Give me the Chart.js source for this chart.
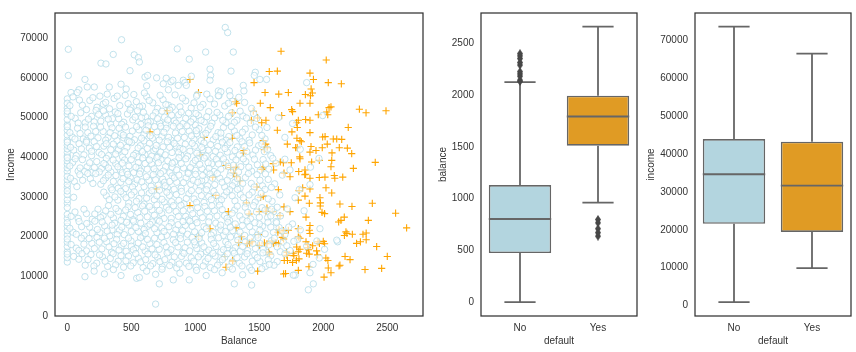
<!DOCTYPE html>
<html>
<head>
<meta charset="utf-8">
<script src="https://cdn.jsdelivr.net/npm/chart.js@4.4.1/dist/chart.umd.min.js"></script>
<style>
  html, body { margin: 0; padding: 0; background: #fff; }
  #wrap { position: relative; width: 856px; height: 352px; }
  canvas { position: absolute; top: 0; }
</style>
</head>
<body>
<div id="wrap">
  <canvas id="scatter" width="430" height="352" style="left:0px"></canvas>
  <canvas id="boxBalance" width="212" height="352" style="left:430px"></canvas>
  <canvas id="boxIncome" width="214" height="352" style="left:642px"></canvas>
</div>
<script>
// ---- data (balance, income) ----
// default == No (sampled, estimated positions)
const noDefault = [
  // top outliers
  [1234,72700],[1253,71400],[424,69600],[8,67200],[859,67300],[359,65900],[1297,66500],[1081,66500],[523,65800],[555,65100],
  [563,64000],[953,64700],[263,63700],[302,63500],[490,61800],[1115,62200],[1279,61700],[8,60600],[607,60200],[628,60600],
  [1120,60600],[1469,61400],[1461,60600],[969,60400],[138,59600],[698,60000],[773,59900],[750,58500],[810,59000],[825,59400],
  [867,58100],[906,59400],[919,58800],[1115,59400],[1375,58100],[1505,59600],[1557,59600],[1870,58800],[211,57700],[328,57700],
  [420,58400],[620,58000],[790,57000],[930,58100],[29,56300],[91,57000],[1016,55800],[1180,56700],[1266,56700],[1380,56700],
  [1271,55500],[1185,55500],[156,57700],[78,56300],[460,57200],[1200,56500],
  // 52k-56k
  [0,52400],[0,54700],[0,53600],[45,55200],[118,53100],[176,54300],[232,52600],[281,53400],[255,55400],[330,52200],
  [366,54800],[410,53000],[452,55600],[497,52500],[540,54000],[588,52900],[620,55300],[668,53700],[705,52300],[748,54500],
  [790,53100],[842,55700],[880,52700],[925,54200],[968,52400],[1010,55400],[1060,53300],[1115,54700],[1180,55500],[1230,52900],
  [1290,54100],[1385,53800],[1440,52300],[312,55900],[602,56200],[150,52000],
  [20,53000],[95,54400],[200,55000],[300,53800],[390,55400],[475,53500],[520,55800],[565,52700],[640,54300],[725,55600],
  [770,53300],[820,52600],[900,54900],[990,53700],[1040,52600],[1090,55900],[1150,53400],[1260,53600],[1340,55100],
  // 48k-52k
  [0,48200],[0,49500],[0,50900],[0,51600],[62,49800],[105,51200],[140,48700],[190,50300],[225,51800],[262,49100],
  [300,50600],[338,48400],[375,51400],[402,49700],[441,48800],[470,50900],[512,49400],[548,51700],[575,48300],[612,50200],
  [650,49000],[690,51300],[722,48600],[760,50100],[801,51900],[835,49200],[870,50700],[905,48500],[948,51100],[985,49600],
  [1025,50500],[1070,48900],[1105,51500],[1150,49900],[1192,50600],[1240,48700],[1283,51200],[1325,49300],[1372,50400],[1430,48600],
  [1480,49800],[580,50000],[352,49700],[770,48300],[1000,48100],
  [30,50300],[85,48600],[165,49600],[210,48900],[245,50800],[282,51700],[320,49600],[395,51000],[425,48300],[490,51900],
  [530,50100],[595,51300],[630,48900],[670,50400],[705,49700],[740,51600],[785,49400],[815,50600],[850,48600],[890,51400],
  [925,49800],[965,48900],[1005,51000],[1045,49300],[1090,50200],[1130,48600],[1170,51300],[1215,49300],[1260,50300],[1305,48800],
  [1350,51600],[1400,49900],[1455,51000],
  // 44k-48k
  [0,44300],[0,45600],[0,46800],[0,47700],[38,45100],[80,47300],[125,44600],[160,46200],[205,47800],[240,44900],
  [280,46500],[318,45000],[350,47400],[388,44200],[420,46000],[455,47600],[490,45300],[525,44400],[560,46900],[598,45700],
  [632,47900],[665,44800],[700,46400],[738,45200],[772,47300],[810,44300],[845,46100],[880,47700],[915,45000],[952,46600],
  [990,44500],[1028,47200],[1062,45600],[1100,46900],[1140,44400],[1178,46200],[1220,47500],[1262,45200],[1305,46600],[1348,44700],
  [1390,47100],[1445,45600],[1500,46900],[1545,44600],[440,44900],[730,47800],[1010,45900],[150,44200],[600,44100],[1200,44900],
  [20,46200],[60,44600],[100,46000],[140,47600],[185,45300],[222,46500],[260,47600],[300,44300],[335,46200],[370,45400],
  [405,47300],[438,45600],[472,44200],[508,46600],[542,47700],[580,44800],[615,46800],[648,45400],[682,47700],[718,44300],
  [755,46300],[792,45000],[828,47800],[862,44800],[898,46500],[935,47900],[970,45400],[1008,46700],[1045,44200],[1082,46000],
  [1120,47800],[1160,45200],[1200,46100],[1240,44300],[1282,47700],[1325,45500],[1368,46300],[1420,44300],[1470,47600],[1520,45500],
  // 40k-44k
  [0,40300],[0,41200],[0,42100],[0,43000],[0,43800],[50,41800],[92,43400],[130,40600],[172,42300],[210,43900],
  [248,41200],[286,42800],[322,40400],[360,43300],[395,41700],[432,40100],[466,42500],[502,43700],[536,41000],[570,42900],
  [607,40600],[642,43500],[676,41600],[712,40200],[748,42600],[782,43900],[818,41200],[852,42800],[888,40500],[922,43300],
  [958,41500],[995,42800],[1030,40400],[1068,43600],[1102,41800],[1140,40200],[1175,42700],[1212,43800],[1250,41300],[1290,40100],
  [1328,42600],[1365,43900],[1402,41400],[1450,40600],[1495,42900],[1540,41400],[1590,40400],[400,42000],[690,42100],[880,42200],
  [1060,41900],[190,40400],[550,40100],[1250,43100],
  [25,42500],[70,40400],[110,42100],[150,43800],[190,41500],[228,42700],[268,40700],[304,43400],[340,41900],[378,40800],
  [415,43000],[450,41400],[484,43900],[518,40500],[553,42300],[588,41400],[625,42200],[660,40300],[695,43000],[730,41300],
  [765,40600],[800,42500],[835,43500],[870,41200],[905,42000],[940,40300],[976,43500],[1012,41000],[1050,42500],[1085,40300],
  [1120,43200],[1158,41500],[1195,40500],[1232,42200],[1270,43700],[1310,41700],[1345,40600],[1385,42700],[1425,43600],[1470,41800],
  [1520,43300],[1565,42000],
  // 36k-40k
  [0,36400],[0,37300],[0,38200],[0,39100],[0,39900],[42,38700],[85,36500],[118,39400],[155,37600],[195,36200],
  [230,38900],[268,37200],[305,39700],[340,36300],[378,38400],[412,36900],[448,39300],[482,37800],[518,36100],[555,38600],
  [590,39800],[625,37000],[660,38300],[695,36400],[732,39400],[768,37600],[802,36100],[838,38800],[872,39900],[908,37300],
  [945,36200],[982,38500],[1018,39600],[1052,37100],[1090,36300],[1128,38300],[1165,39500],[1200,37000],[1240,38700],[1278,36200],
  [1318,39300],[1355,37600],[1395,38900],[1440,36500],[1485,38100],[1530,39400],[1575,37000],[1630,38500],[300,38000],[560,37200],
  [820,37500],[1100,38600],[430,36100],[700,39900],[1000,36700],
  [20,37800],[62,39600],[100,37300],[135,36400],[175,38600],[212,37400],[250,36300],[286,38400],[322,37300],[358,39300],
  [395,37600],[430,38500],[465,36400],[500,39400],[536,37500],[572,36500],[608,38400],[642,39300],[678,37100],[712,38600],
  [750,36500],[785,39100],[820,38500],[855,36800],[890,38400],[926,39600],[962,37400],[1000,39200],[1035,38200],[1070,39800],
  [1108,37200],[1146,36400],[1182,38300],[1220,39600],[1258,37700],[1298,38000],[1338,36300],[1375,39600],[1418,37500],[1462,39500],
  [1508,36700],[1550,38300],[1605,39700],
  // 32k-36k
  [0,32400],[0,33200],[0,34300],[0,35200],[55,33900],[98,35600],[180,34600],[222,35900],[262,33200],
  [300,34800],[342,32300],[380,35400],[418,33700],[455,32100],[492,34900],[528,33300],[565,35800],[600,32600],[638,34200],
  [672,35600],[710,33000],[745,34500],[782,32300],[818,35300],[855,33700],[890,32200],[928,34800],[965,33200],[1002,35700],
  [1040,32700],[1078,34300],[1115,35800],[1152,33100],[1192,34700],[1230,32500],[1270,35300],[1310,33700],[1350,32200],[1392,34900],
  [1438,33400],[1482,35600],[1525,32800],[1570,34400],[1620,33300],[1680,35500],[480,33900],[760,33700],[1050,34100],[1330,34600],
  [25,34700],[75,32600],[120,34200],[160,35900],[200,33400],[282,34100],[320,35500],[360,33900],[398,32200],
  [436,34600],[472,35700],[510,32500],[546,34300],[582,33800],[618,35100],[655,32700],[690,34300],[728,35900],[765,32800],
  [800,33900],[836,34800],[872,35500],[908,33600],[945,35900],[984,34200],[1020,33700],[1058,35400],[1096,32800],[1134,34700],
  [1172,35900],[1210,33700],[1250,34200],[1290,32800],[1370,33400],[1415,35900],[1460,32500],[1505,34200],[1548,35800],[1595,32400],
  // 28k-32k
  [0,28400],[0,29300],[0,30600],[0,31500],[305,30300],[350,31800],
  [395,29200],[440,30700],[480,28500],[522,31300],[560,29600],[600,28200],[640,30900],[680,29300],[720,31700],[758,28700],
  [798,30400],[835,31900],[872,29100],[912,28300],[950,30800],[990,29500],[1028,31600],[1068,28600],[1105,30100],[1145,31400],
  [1185,28900],[1225,30300],[1268,31800],[1310,29000],[1352,30600],[1398,28400],[1445,31200],[1490,29700],[1545,31900],[1600,28900],
  [1660,30500],[700,28000],
  [50,29900],[285,31200],[328,29300],[372,30000],[418,31400],[460,29800],[500,30500],
  [540,28900],[580,31000],[620,29700],[660,31600],[700,30300],[740,29400],[778,31200],[815,28800],[852,30600],[892,31400],
  [930,29600],[970,31600],[1010,28600],[1048,30300],[1088,31800],[1125,29300],[1165,30400],[1205,29300],[1245,31300],[1288,30300],
  [1330,31900],[1375,29800],[1420,30500],[1468,28700],[1515,30900],[1570,29500],
  // 24k-28k
  [0,24600],[0,25600],[0,27300],[60,26200],[150,25800],[195,24400],[240,26900],[280,25300],[322,27800],
  [360,24700],[400,26400],[438,25100],[475,27500],[512,24300],[550,26100],[588,27700],[625,25000],[662,26700],[700,24200],
  [738,25800],[775,27400],[812,24600],[850,26300],[888,27900],[925,25100],[962,26800],[1000,24400],[1038,26000],[1075,27600],
  [1112,24900],[1150,26500],[1190,27900],[1228,25300],[1268,24100],[1308,26700],[1348,25200],[1390,27400],[1432,24500],[1478,26200],
  [1522,27300],[1565,24800],[1612,26300],[1665,25200],[1720,27000],
  [30,25100],[85,24600],[130,26900],[215,25700],[260,24800],[300,26500],[340,25600],[380,27100],[420,24100],
  [456,26700],[494,25600],[530,27300],[568,24800],[605,26400],[643,27600],[680,25400],[720,26600],[756,24600],[794,26700],
  [830,27800],[868,25100],[906,26500],[944,24200],[980,25800],[1018,27300],[1056,24800],[1094,26400],[1130,27800],[1170,25200],
  [1210,26800],[1248,24600],[1288,25900],[1328,27700],[1370,24200],[1410,26100],[1455,27800],[1500,24900],[1545,26700],[1590,25200],
  [1640,27400],
  // 20k-24k
  [0,20400],[0,21500],[0,22600],[0,23500],[45,21100],[92,23800],[132,20300],[175,22400],[215,23900],[255,21000],
  [292,22700],[332,20200],[370,23400],[408,21600],[445,20500],[482,22900],[518,23900],[555,21300],[592,20100],[628,22600],
  [665,23700],[700,21000],[738,22200],[775,20300],[812,23500],[848,21700],[885,20400],[922,22800],[958,23900],[995,21200],
  [1032,20200],[1068,22500],[1105,23700],[1142,21000],[1180,22400],[1218,20300],[1255,23600],[1292,21500],[1330,20100],[1368,22800],
  [1405,23900],[1445,21200],[1485,20400],[1525,22600],[1568,23600],[1610,21100],[1655,22300],[1700,20500],[1760,23200],[1820,21700],
  [600,21800],[900,21500],[1200,21700],[350,21700],[1500,23200],
  [20,22100],[70,20600],[112,22500],[152,23300],[195,20900],[235,21800],[272,23700],[312,21400],[350,22900],[390,20500],
  [426,22400],[464,23600],[500,21300],[536,22300],[574,23400],[610,20800],[646,23100],[682,22000],[720,23900],[756,21300],
  [794,22500],[830,20600],[866,23000],[904,23800],[940,20600],[976,22600],[1014,23500],[1050,21000],[1086,22000],[1124,20400],
  [1160,23400],[1198,22900],[1236,21300],[1274,22400],[1312,23200],[1350,21100],[1386,20300],[1425,22500],[1465,23500],[1505,21600],
  [1546,20700],[1590,22400],[1632,23800],[1678,21400],[1730,22400],
  // 16k-20k
  [0,16200],[0,17500],[0,18600],[0,19400],[70,17100],[110,19600],[150,16400],[192,18300],[232,19800],[270,16900],
  [308,18700],[345,16100],[385,19300],[422,17600],[460,16300],[498,18900],[535,17100],[572,19700],[608,16400],[645,18200],
  [682,19600],[718,16800],[755,18500],[792,16100],[828,19200],[865,17400],[902,16000],[938,18600],[975,19800],[1012,17000],
  [1050,18400],[1088,16200],[1125,19300],[1162,17500],[1200,16100],[1238,18700],[1275,19900],[1312,17200],[1350,16300],[1390,18600],
  [1430,19700],[1470,17000],[1510,18200],[1552,16100],[1595,19000],[1640,17400],[1688,18600],[1740,16500],[1800,19300],[1870,17600],
  [1950,18900],[2010,16800],[500,17600],[1000,17900],[1250,17100],
  [30,18000],[90,16500],[130,18100],[170,19500],[212,17000],[250,18600],[290,19600],[326,17400],[365,18200],[404,16600],
  [440,18300],[478,19600],[516,16700],[554,18400],[590,17400],[626,19300],[662,16900],[700,18000],[736,19900],[774,17400],
  [810,16700],[846,18500],[884,19500],[920,17200],[956,16400],[994,18700],[1030,19500],[1068,17400],[1106,16600],[1144,18300],
  [1182,19700],[1220,16700],[1256,18000],[1294,16400],[1332,19100],[1370,17500],[1410,16500],[1450,18300],[1490,19800],[1530,16800],
  [1574,17900],[1618,19600],[1664,16200],[1715,17700],[1770,18800],
  // 12k-16k
  [0,13600],[0,14700],[0,15600],[90,14300],[140,12800],[185,15500],[230,13300],[275,14900],[315,12500],[358,15700],
  [398,13800],[440,12300],[478,15100],[515,13400],[555,14600],[592,12200],[630,15600],[668,13200],[705,14800],[742,12400],
  [780,15900],[818,13600],[855,12100],[892,15000],[930,13300],[968,14700],[1005,12300],[1042,15600],[1080,13700],[1118,12200],
  [1155,15100],[1192,13600],[1230,14800],[1268,12400],[1305,15800],[1345,13300],[1385,14900],[1425,12200],[1465,15400],[1505,13700],
  [1548,12500],[1590,15200],[1640,13700],[1700,15700],[1920,13000],
  [50,15000],[115,15700],[162,14200],[208,12600],[252,15400],[296,13800],[336,14500],[378,12900],[420,15200],[458,13900],
  [496,12600],[535,15700],[574,13600],[612,14200],[650,12600],[686,15400],[724,13700],[762,14200],[800,12700],[836,14900],
  [874,13100],[912,15800],[950,12500],[988,13800],[1024,14900],[1062,12600],[1100,14500],[1138,15800],[1174,12800],[1212,14200],
  [1250,15700],[1288,13600],[1326,14700],[1365,12600],[1405,15700],[1445,13800],[1485,14700],[1528,15900],[1570,14200],[1615,12800],
  // 9k-12k and low outliers
  [138,9900],[210,11300],[290,10600],[360,11700],[420,10200],[542,9500],[563,9700],[620,11300],[690,10500],[740,11800],
  [828,9100],[880,10800],[953,9100],[1010,11500],[1085,10200],[1150,11700],[1210,10900],[1290,11800],[1370,10400],[1440,11500],
  [1520,11900],[1780,10300],[719,8100],[1305,8100],[1440,7800],[1883,6600],[1922,8100],[690,3000],
  // high balance, no default
  [1740,36800],[1896,33100],[1813,31900],[1779,29800],[1596,26900],[1635,23500],[1766,10300],[1896,10900],[1578,13000],[1966,39700],
  [1995,50500],[2112,18700],[2105,19100],[1974,22000],[1969,14600],[1700,45000],[1650,50000],[1760,48500],[1820,42000],[1700,39500],
  [1850,26500],[1900,37500],[1560,47500]
];

// default == Yes
const yesDefault = [
  [1670,66700],[2023,64500],[1578,61600],[1641,61700],[1896,61200],[1923,59600],[2039,58800],[2141,58500],[1459,58800],[1545,56300],
  [1652,55900],[1727,56300],[1860,55800],[1905,57200],[1915,56200],[1900,55500],[1508,53600],[1818,53600],[1896,53600],[1323,53600],
  [2282,52100],[2334,51200],[2490,51700],[2045,52500],[2060,52700],[1961,50700],[1292,51200],[1453,51600],[1586,52500],[1675,50500],
  [1753,52000],[1760,51500],[2027,51400],[2035,50700],[1487,49900],[1552,49300],[1792,48700],[1805,49300],[1862,49500],[1896,49300],
  [1438,49300],[1519,48700],[1641,46800],[1755,46400],[1896,46200],[2195,47500],[1797,47500],[1995,45100],[2014,45200],[2078,44600],
  [2105,44600],[2144,44500],[1794,44800],[1818,44200],[1829,43900],[1531,44200],[1550,43300],[1719,43300],[1784,42400],[1796,42400],
  [1904,42700],[1992,42400],[2031,43300],[2125,42400],[2188,42300],[2222,40900],[1896,41300],[1943,41700],[2068,41100],[1816,40100],
  [1380,41700],[1375,41000],[1539,41900],[1562,42400],[2406,38700],[2066,39200],[1969,39200],[1909,38800],[1818,39600],[1750,38600],
  [1688,38600],[1664,38800],[1609,38400],[2060,37600],[2235,37200],[1857,36800],[1740,35100],[1808,36400],[1855,35600],[1862,35700],
  [1896,34700],[1969,34900],[2013,35000],[2086,35400],[2090,34700],[2152,35000],[1649,31800],[1693,36000],[1521,36900],[1530,37300],
  [1612,36800],[1811,31600],[1839,32300],[1857,30200],[1896,32000],[2021,32300],[2066,31000],[1974,29800],[1978,28500],[1976,27700],
  [1990,26100],[2010,25800],[1891,28400],[1805,29200],[2130,28200],[2224,27600],[2383,28400],[2565,25900],[2651,22200],[1662,25300],
  [1693,27500],[1500,26300],[1552,26400],[1605,26300],[1420,25700],[1740,26300],[1865,24900],[2164,24900],[2138,24100],[2120,23700],
  [2352,24100],[1688,21500],[1688,20800],[1654,21700],[1645,21100],[1727,21600],[1896,22800],[1891,21600],[1896,20800],[1805,22000],
  [1805,19900],[1818,19600],[1865,18700],[1959,18700],[1970,18300],[2000,18800],[2010,18200],[1917,17700],[1880,18000],[2177,21200],
  [2165,20300],[2185,20800],[2227,20600],[2260,18300],[2290,18700],[2310,20600],[2335,20900],[2335,19200],[2417,17500],[2500,15000],
  [2326,11700],[2456,12000],[2209,14200],[2170,15000],[2123,12600],[2130,12800],[2039,12100],[2060,10900],[2006,9800],[2036,14000],
  [2020,14600],[1948,16400],[1955,15400],[1888,12400],[1890,15600],[1870,15800],[1790,14000],[1760,13500],[1810,14400],[1720,14000],
  [1695,14000],[1715,15300],[1712,16100],[1690,10600],[1705,10700],[1805,11500],[1878,17200],[1884,16700],[1805,16200],[1818,16800],
  [1792,17400],[1765,15800],[1770,15200],[1630,18500],[1650,18200],[1573,16100],[1580,15600],[1540,18400],[1560,18200],[1500,17800],
  [1487,11300],[1600,18900],[1610,18300],[1680,19800],[1690,19400],[1493,20500],[1443,18700],[1425,18400],[1405,18200],[1292,14000],
  [1480,32500],[1531,30200],[1510,29900],[1560,27200],[1400,28500],[1362,20000],[1340,18500],[1318,22200],[958,59600],[1025,56300],
  [781,51700],[1289,51200],[1070,45000],[1289,44800],[1037,40600],[1240,37900],[1136,35000],[1159,30400],[1258,26300],[1115,22000],
  [1025,20000],[1232,15000],[1292,13800],[1240,12300],[698,32000],[958,27800],[1300,36000],[646,46400],[1310,54000],[1276,37400],
  [1318,37500],[1323,35100],[1349,34000]
];

const balanceTicks = [0, 500, 1000, 1500, 2000, 2500];
const incomeTicks = [0, 10000, 20000, 30000, 40000, 50000, 60000, 70000];

// box plot summaries per group
const groups = ['No', 'Yes'];
const balanceLow = [0, 961];
const balanceQ1 = [473, 1512];
const balanceMedian = [803, 1794];
const balanceQ3 = [1131, 1995];
const balanceHigh = [2127, 2663];
const balanceOutliersNo = [2134, 2146, 2184, 2206, 2228, 2292, 2316, 2354, 2380, 2402];
const balanceOutliersYes = [637, 671, 709, 766, 798];

const incomeLow = [900, 9900];
const incomeQ1 = [21600, 19450];
const incomeMedian = [34700, 31670];
const incomeQ3 = [43990, 43300];
const incomeHigh = [73700, 66550];

// ---- styling ----
const FONT = "'Liberation Sans', Arial, sans-serif";
Chart.defaults.font.family = FONT;
Chart.defaults.font.size = 10;
Chart.defaults.color = '#333';

const lineGray = '#666666';
const boxColors = ['#b3d5df', '#e09b24'];

// narrow diamond like matplotlib's 'd' marker
const diamond = document.createElement('canvas');
diamond.width = 6; diamond.height = 9;
(() => {
  const c = diamond.getContext('2d');
  c.fillStyle = '#474747';
  c.beginPath();
  c.moveTo(3, 0); c.lineTo(6, 4.5); c.lineTo(3, 9); c.lineTo(0, 4.5);
  c.closePath();
  c.fill();
})();

const frame = {
  id: 'frame',
  afterDraw(chart) {
    const { ctx, chartArea: a } = chart;
    ctx.save();
    ctx.strokeStyle = '#333';
    ctx.lineWidth = 1.25;
    ctx.strokeRect(a.left, a.top, a.right - a.left, a.bottom - a.top);
    ctx.restore();
  }
};

function yAxis(min, max, ticks, width, title, titlePad) {
  return {
    type: 'linear', min, max,
    grid: { display: false, drawTicks: false },
    border: { display: false },
    ticks: { padding: 7, color: '#333', font: { size: 10 }, callback: v => String(v) },
    afterBuildTicks: s => { s.ticks = ticks.map(v => ({ value: v })); },
    afterFit: s => { s.width = width; },
    title: { display: true, text: title, color: '#333', font: { size: 10 }, padding: { top: titlePad, bottom: 0 } }
  };
}

function xAxis(min, max, ticks, title, labelFn) {
  return {
    type: 'linear', min, max, offset: false,
    grid: { display: false, drawTicks: false, offset: false },
    border: { display: false },
    ticks: { padding: 6, color: '#333', font: { size: 10 }, maxRotation: 0, callback: labelFn },
    afterBuildTicks: s => { s.ticks = ticks.map(v => ({ value: v })); },
    afterFit: s => { s.height = 36; },
    title: { display: true, text: title, color: '#333', font: { size: 10 }, padding: { top: 0, bottom: 5 } }
  };
}

const common = {
  responsive: false,
  animation: false,
  events: [],
  plugins: { legend: { display: false }, tooltip: { enabled: false } }
};

// ---- scatter: balance vs income ----
new Chart(document.getElementById('scatter'), {
  type: 'scatter',
  data: {
    datasets: [
      {
        label: 'No',
        data: noDefault.map(([b, i]) => ({ x: b, y: i })),
        pointStyle: 'circle',
        pointRadius: 3.2,
        borderWidth: 1,
        borderColor: 'rgba(173,216,230,0.75)',
        backgroundColor: 'rgba(255,255,255,0.6)',
        order: 0
      },
      {
        label: 'Yes',
        data: yesDefault.map(([b, i]) => ({ x: b, y: i })),
        pointStyle: 'cross',
        pointRadius: 3.6,
        borderWidth: 1.1,
        borderColor: '#ffa500',
        backgroundColor: '#ffa500',
        order: 1
      }
    ]
  },
  options: {
    ...common,
    layout: { padding: { top: 6, right: 7, left: 0, bottom: 0 } },
    scales: {
      x: xAxis(-96, 2779, balanceTicks, 'Balance', v => String(v)),
      y: yAxis(0, 76340, incomeTicks, 55, 'Income', 5)
    }
  },
  plugins: [frame]
});

// ---- box plots ----
function boxDatasets(low, q1, med, q3, high, outliers) {
  const whisk = [];
  const mids = [];
  groups.forEach((g, k) => {
    whisk.push(
      { x: k, y: low[k] }, { x: k, y: q1[k] }, { x: k, y: null },
      { x: k, y: q3[k] }, { x: k, y: high[k] }, { x: k, y: null },
      { x: k - 0.2, y: low[k] }, { x: k + 0.2, y: low[k] }, { x: k, y: null },
      { x: k - 0.2, y: high[k] }, { x: k + 0.2, y: high[k] }, { x: k, y: null }
    );
    mids.push({ x: k - 0.4, y: med[k] }, { x: k + 0.4, y: med[k] }, { x: k, y: null });
  });
  const sets = [
    {
      type: 'bar',
      data: groups.map((g, k) => ({ x: k, y: [q1[k], q3[k]] })),
      backgroundColor: boxColors,
      borderColor: lineGray,
      borderWidth: 1.6,
      borderSkipped: false,
      categoryPercentage: 0.8,
      barPercentage: 1,
      order: 3
    },
    {
      type: 'line', data: whisk, borderColor: lineGray, borderWidth: 1.8,
      pointRadius: 0, spanGaps: false, fill: false, order: 2
    },
    {
      type: 'line', data: mids, borderColor: lineGray, borderWidth: 1.8,
      pointRadius: 0, spanGaps: false, fill: false, order: 1
    }
  ];
  if (outliers) {
    sets.push({
      type: 'scatter',
      data: outliers,
      pointStyle: diamond,
      pointRadius: 4,
      order: 0
    });
  }
  return sets;
}

const balanceOutliers = [
  ...balanceOutliersNo.map(v => ({ x: 0, y: v })),
  ...balanceOutliersYes.map(v => ({ x: 1, y: v }))
];

new Chart(document.getElementById('boxBalance'), {
  type: 'bar',
  data: { datasets: boxDatasets(balanceLow, balanceQ1, balanceMedian, balanceQ3, balanceHigh, balanceOutliers) },
  options: {
    ...common,
    layout: { padding: { top: 6, right: 5, left: 0, bottom: 0 } },
    scales: {
      x: xAxis(-0.5, 1.5, [0, 1], 'default', v => groups[v]),
      y: yAxis(-135, 2795, balanceTicks, 51, 'balance', 7)
    }
  },
  plugins: [frame]
});

new Chart(document.getElementById('boxIncome'), {
  type: 'bar',
  data: { datasets: boxDatasets(incomeLow, incomeQ1, incomeMedian, incomeQ3, incomeHigh, null) },
  options: {
    ...common,
    layout: { padding: { top: 6, right: 5, left: 0, bottom: 0 } },
    scales: {
      x: xAxis(-0.5, 1.5, [0, 1], 'default', v => groups[v]),
      y: yAxis(-2760, 77310, incomeTicks, 53, 'income', 3)
    }
  },
  plugins: [frame]
});
</script>
</body>
</html>
